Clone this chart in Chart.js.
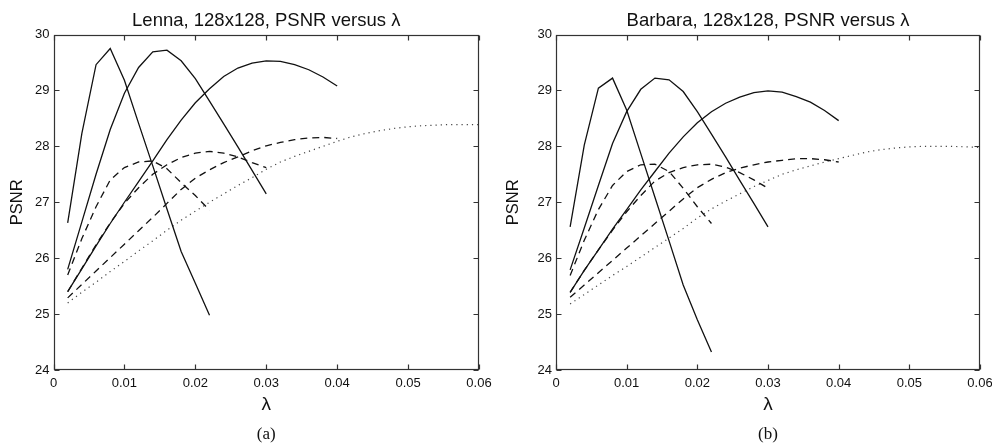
<!DOCTYPE html>
<html>
<head>
<meta charset="utf-8">
<script src="https://cdn.jsdelivr.net/npm/chart.js@4/dist/chart.umd.min.js"></script>
<style>
  body { margin: 0; background: #fff; width: 992px; height: 446px; overflow: hidden; }
  .panel { position: absolute; top: 0; width: 496px; height: 446px; }
</style>
</head>
<body>
<div class="panel" style="left:0"><canvas id="lenna-chart" width="496" height="446"></canvas></div>
<div class="panel" style="left:496px"><canvas id="barbara-chart" width="496" height="446"></canvas></div>
<script>
  /** lambda grids **/
  const lamA = [0.002, 0.004, 0.006, 0.008, 0.010, 0.012, 0.014, 0.016, 0.018, 0.020, 0.022];
  const lamB = [0.002, 0.004, 0.006, 0.008, 0.010, 0.012, 0.014, 0.016, 0.018, 0.020, 0.022, 0.024, 0.026, 0.028, 0.030];
  const lamC = [0.002, 0.004, 0.006, 0.008, 0.010, 0.012, 0.014, 0.016, 0.018, 0.020, 0.022, 0.024, 0.026, 0.028, 0.030,
                0.032, 0.034, 0.036, 0.038, 0.040];
  const lamD = [0.002, 0.004, 0.006, 0.008, 0.010, 0.012, 0.014, 0.016, 0.018, 0.020, 0.022, 0.024, 0.026, 0.028, 0.030,
                0.032, 0.034, 0.036, 0.038, 0.040, 0.042, 0.044, 0.046, 0.048, 0.050, 0.052, 0.054, 0.056, 0.058, 0.060];

  const xTicks = [0, 0.01, 0.02, 0.03, 0.04, 0.05, 0.06];
  const yTicks = [24, 25, 26, 27, 28, 29, 30];

  /** Lenna (a) **/
  const lennaSolidA = [26.63, 28.23, 29.46, 29.75, 29.18, 28.41, 27.65, 26.88, 26.12, 25.55, 24.98];
  const lennaSolidB = [25.80, 26.65, 27.50, 28.30, 28.95, 29.41, 29.69, 29.72, 29.53, 29.21, 28.81, 28.40, 27.99, 27.57, 27.15];
  const lennaSolidC = [25.40, 25.81, 26.22, 26.62, 27.00, 27.37, 27.74, 28.12, 28.47, 28.78, 29.03, 29.25, 29.40, 29.49, 29.53,
                       29.52, 29.46, 29.37, 29.24, 29.08];
  const lennaDashA = [25.70, 26.35, 26.92, 27.40, 27.62, 27.72, 27.74, 27.60, 27.35, 27.12, 26.86];
  const lennaDashB = [25.40, 25.82, 26.24, 26.63, 26.98, 27.26, 27.50, 27.67, 27.80, 27.88, 27.91, 27.88, 27.81, 27.71, 27.62];
  const lennaDashC = [25.29, 25.53, 25.77, 26.01, 26.25, 26.49, 26.73, 26.98, 27.23, 27.43, 27.58, 27.71, 27.81, 27.92, 28.01,
                      28.07, 28.12, 28.15, 28.16, 28.14];
  const lennaDot = [25.20, 25.39, 25.57, 25.76, 25.94, 26.13, 26.31, 26.50, 26.68, 26.84, 27.00, 27.15, 27.30, 27.44, 27.59,
                    27.72, 27.82, 27.91, 28.00, 28.09, 28.17, 28.23, 28.28, 28.32, 28.35, 28.37, 28.38, 28.39, 28.39, 28.39];

  /** Barbara (b) **/
  const barbSolidA = [26.56, 28.02, 29.04, 29.22, 28.65, 27.87, 27.09, 26.31, 25.52, 24.90, 24.32];
  const barbSolidB = [25.79, 26.54, 27.30, 28.05, 28.62, 29.02, 29.22, 29.19, 28.98, 28.62, 28.22, 27.81, 27.39, 26.98, 26.56];
  const barbSolidC = [25.39, 25.78, 26.15, 26.52, 26.87, 27.22, 27.55, 27.88, 28.17, 28.42, 28.62, 28.77, 28.88, 28.96, 28.99,
                      28.97, 28.89, 28.79, 28.64, 28.46];
  const barbDashA = [25.69, 26.32, 26.87, 27.30, 27.55, 27.67, 27.68, 27.55, 27.25, 26.92, 26.62];
  const barbDashB = [25.39, 25.78, 26.15, 26.50, 26.83, 27.12, 27.38, 27.53, 27.62, 27.67, 27.68, 27.63, 27.53, 27.40, 27.25];
  const barbDashC = [25.30, 25.52, 25.74, 25.96, 26.18, 26.40, 26.62, 26.84, 27.06, 27.26, 27.41, 27.53, 27.61, 27.67, 27.72,
                     27.75, 27.78, 27.78, 27.76, 27.72];
  const barbDot = [25.18, 25.35, 25.52, 25.69, 25.85, 26.02, 26.19, 26.36, 26.53, 26.72, 26.88, 27.02, 27.15, 27.28, 27.39,
                   27.50, 27.58, 27.65, 27.72, 27.78, 27.84, 27.90, 27.94, 27.97, 27.99, 28.00, 28.00, 28.00, 27.99, 27.98];

  /** 공통 **/
  const sans = "'Liberation Sans', Arial, sans-serif";
  const ink = '#111';

  function pts(lam, vals) {
    return lam.map((x, i) => ({ x: x, y: vals[i] }));
  }

  function line(lam, vals, style) {
    let ds = {
      data: pts(lam, vals),
      borderColor: ink,
      borderWidth: 1.3,
      pointRadius: 0,
      tension: 0,
      fill: false
    };
    if (style === 'dash') ds.borderDash = [7, 5];
    if (style === 'dot') { ds.borderDash = [1.2, 4]; ds.borderColor = '#444'; ds.borderWidth = 1.2; }
    return ds;
  }

  // box round the plot with inward ticks on all four sides (matlab look)
  const matlabBox = {
    id: 'matlabBox',
    afterDatasetsDraw(chart) {
      const ctx = chart.ctx;
      const a = chart.chartArea;
      const xs = chart.scales.x, ys = chart.scales.y;
      const l = Math.round(a.left) + 0.5, r = Math.round(a.right) - 0.5;
      const t = Math.round(a.top) + 0.5, b = Math.round(a.bottom) - 0.5;
      ctx.save();
      ctx.strokeStyle = '#333';
      ctx.lineWidth = 1.2;
      ctx.strokeRect(l, t, r - l, b - t);
      ctx.beginPath();
      xTicks.forEach(v => {
        const px = Math.round(xs.getPixelForValue(v)) + 0.5;
        ctx.moveTo(px, b); ctx.lineTo(px, b - 5);
        ctx.moveTo(px, t); ctx.lineTo(px, t + 5);
      });
      yTicks.forEach(v => {
        const py = Math.round(ys.getPixelForValue(v)) + 0.5;
        ctx.moveTo(l, py); ctx.lineTo(l + 5, py);
        ctx.moveTo(r, py); ctx.lineTo(r - 5, py);
      });
      ctx.stroke();
      ctx.restore();
    }
  };

  function makeChart(id, title, sub, series, axisWidth, padRight) {
    return new Chart(document.getElementById(id), {
      type: 'line',
      data: {
        datasets: [
          line(lamA, series[0], 'solid'),
          line(lamB, series[1], 'solid'),
          line(lamC, series[2], 'solid'),
          line(lamA, series[3], 'dash'),
          line(lamB, series[4], 'dash'),
          line(lamC, series[5], 'dash'),
          line(lamD, series[6], 'dot')
        ]
      },
      options: {
        responsive: false,
        animation: false,
        layout: { padding: { left: 0, right: padRight, top: 0, bottom: 0 } },
        plugins: {
          legend: { display: false },
          tooltip: { enabled: false },
          title: {
            display: true,
            fullSize: false,
            text: title,
            color: ink,
            font: { family: sans, size: 18.5, weight: 'normal', lineHeight: 1.2 },
            padding: { top: 10, bottom: 2.3 }
          },
          subtitle: {
            display: true,
            fullSize: false,
            position: 'bottom',
            text: sub,
            color: ink,
            font: { family: "'Liberation Serif', 'Times New Roman', serif", size: 17, weight: 'normal', lineHeight: 1.2 },
            padding: { top: 4, bottom: 1 }
          }
        },
        scales: {
          x: {
            type: 'linear',
            min: 0,
            max: 0.06,
            afterBuildTicks: s => { s.ticks = xTicks.map(v => ({ value: v })); },
            afterFit: s => { s.height = 50.6; s.paddingLeft = 0; s.paddingRight = 0; },
            grid: { display: false, drawTicks: false },
            border: { display: false },
            ticks: {
              padding: 6,
              color: ink,
              font: { family: sans, size: 13 },
              callback: v => v === 0 ? '0' : v.toFixed(2)
            },
            title: {
              display: true,
              text: 'λ',
              color: ink,
              font: { family: sans, size: 19 },
              padding: { top: 0, bottom: 4 }
            }
          },
          y: {
            min: 24,
            max: 30,
            afterBuildTicks: s => { s.ticks = yTicks.map(v => ({ value: v })); },
            afterFit: s => { s.width = axisWidth; },
            grid: { display: false, drawTicks: false },
            border: { display: false },
            ticks: {
              padding: 4,
              color: ink,
              font: { family: sans, size: 13 }
            },
            title: {
              display: true,
              text: 'PSNR',
              color: ink,
              font: { family: sans, size: 16.5 },
              padding: { top: 8, bottom: 0 }
            }
          }
        }
      },
      plugins: [matlabBox]
    });
  }

  makeChart('lenna-chart', 'Lenna, 128x128, PSNR versus λ', '(a)',
    [lennaSolidA, lennaSolidB, lennaSolidC, lennaDashA, lennaDashB, lennaDashC, lennaDot], 53.5, 17);
  makeChart('barbara-chart', 'Barbara, 128x128, PSNR versus λ', '(b)',
    [barbSolidA, barbSolidB, barbSolidC, barbDashA, barbDashB, barbDashC, barbDot], 60, 12);
</script>
</body>
</html>
